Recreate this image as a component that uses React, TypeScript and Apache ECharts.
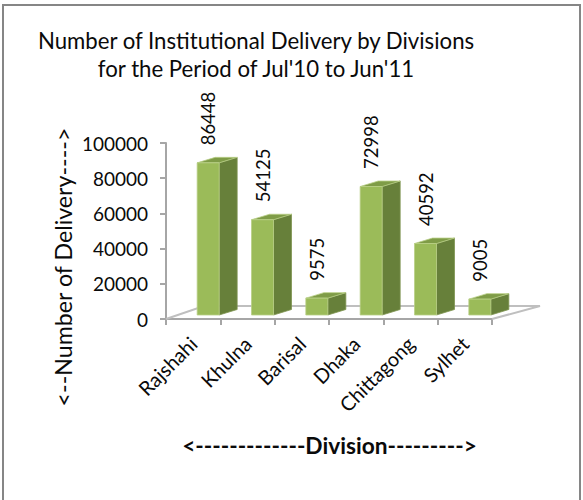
import React, { useEffect, useRef } from "react";
import * as echarts from "echarts";

const categories = ["Rajshahi", "Khulna", "Barisal", "Dhaka", "Chittagong", "Sylhet"];
const deliveries = [86448, 54125, 9575, 72998, 40592, 9005];
const titleLines = ["Number of Institutional Delivery by Divisions", "for the Period of Jul'10 to Jun'11"];
const yAxisTitle = "<--Number of Delivery---->";
const xAxisTitle = "<-------------Division--------->";

const FONT = "Lato";
const TEXT = "#0a0a0a";
const AXIS = "#a6a6a6";
const FRONT = "#9bbb59";
const SIDE = "#67803a";
const TOP = "#7f9c47";

function renderFloor(_: any, api: any) {
  const a = api.coord([categories[0], 0]);
  const b = api.coord([categories[categories.length - 1], 0]);
  const half = api.size([1, 0])[0] / 2;
  const x0 = a[0] - half;
  const x1 = b[0] + half;
  const y = a[1];
  return {
    type: "polyline",
    shape: { points: [[x0, y], [x0 + 38, y - 13], [x1 + 48, y - 13], [x1, y]] },
    style: { fill: "none", stroke: "#bfbfbf", lineWidth: 2 },
    silent: true,
  };
}

function renderBar(_: any, api: any) {
  const cat = api.value(0);
  const val = api.value(1);
  const base = api.coord([cat, 0]);
  const top = api.coord([cat, val]);
  const left = base[0] + 4;
  const w = 22;
  const bottom = base[1] - 4;
  const up = top[1] - 4;
  const dx = 18;
  const dy = 5.5;
  const stroke = { stroke: "#b9cf86", lineWidth: 0.8 };
  return {
    type: "group",
    children: [
      {
        type: "polygon",
        shape: { points: [[left + w, bottom], [left + w + dx, bottom - dy], [left + w + dx, up - dy], [left + w, up]] },
        style: { fill: SIDE, stroke: "#7f9450", lineWidth: 0.8 },
      },
      {
        type: "polygon",
        shape: { points: [[left, up], [left + dx, up - dy], [left + w + dx, up - dy], [left + w, up]] },
        style: { fill: TOP, ...stroke },
      },
      {
        type: "rect",
        shape: { x: left, y: up, width: w, height: bottom - up },
        style: { fill: FRONT, ...stroke },
      },
      {
        type: "text",
        x: left + 11,
        y: up - dy - 12,
        rotation: Math.PI / 2,
        style: {
          text: String(val),
          fontFamily: FONT,
          fontSize: 18.5,
          fill: TEXT,
          align: "left",
          verticalAlign: "middle",
        },
      },
    ],
  };
}

export default function App() {
  const ref = useRef<HTMLDivElement>(null);
  useEffect(() => {
    const chart = echarts.init(ref.current!, undefined, { renderer: "svg" });
    chart.setOption({
      animation: false,
      backgroundColor: "#ffffff",
      textStyle: { fontFamily: FONT },
      title: {
        text: titleLines.join("\n"),
        left: 251,
        top: 21,
        textAlign: "center",
        textStyle: { fontFamily: FONT, fontSize: 22.2, fontWeight: "normal", color: TEXT, lineHeight: 28.5 },
      },
      grid: { left: 166, right: 91, top: 143, bottom: 181 },
      xAxis: {
        type: "category",
        data: categories,
        axisLine: { lineStyle: { color: AXIS, width: 2 } },
        axisTick: { show: true, length: 6, lineStyle: { color: AXIS, width: 2 } },
        axisLabel: { rotate: 45, margin: 21, fontSize: 20, color: TEXT, fontFamily: FONT, interval: 0 },
      },
      yAxis: {
        type: "value",
        min: 0,
        max: 100000,
        interval: 20000,
        axisLine: { show: true, lineStyle: { color: AXIS, width: 2 } },
        axisTick: { show: true, length: 6, lineStyle: { color: AXIS, width: 2 } },
        axisLabel: { margin: 18, fontSize: 19, color: TEXT, fontFamily: FONT, formatter: (v: number) => String(v) },
        splitLine: { show: false },
      },
      series: [
        { type: "custom", renderItem: renderFloor, data: [[categories[0], 0]], encode: { x: 0, y: 1 }, silent: true, z: 1, clip: false },
        {
          type: "custom",
          renderItem: renderBar,
          data: categories.map((c, i) => [c, deliveries[i]]),
          encode: { x: 0, y: 1 },
          z: 3,
          clip: false,
        },
      ],
      graphic: [
        {
          type: "rect",
          z: -1,
          shape: { x: 3, y: 5, width: 577, height: 510 },
          style: { fill: "none", stroke: "#868686", lineWidth: 2 },
          silent: true,
        },
        {
          type: "text",
          x: 63,
          y: 267,
          rotation: Math.PI / 2,
          style: { text: yAxisTitle, fontFamily: FONT, fontSize: 23.2, fill: TEXT, align: "center", verticalAlign: "middle" },
        },
        {
          type: "text",
          x: 329.5,
          y: 445,
          style: { text: xAxisTitle, fontFamily: FONT, fontSize: 22.7, fontWeight: "bold", fill: TEXT, align: "center", verticalAlign: "middle" },
        },
      ],
    });
    return () => chart.dispose();
  }, []);
  return <div ref={ref} style={{ position: "absolute", left: 0, top: 0, width: 583, height: 500 }} />;
}
